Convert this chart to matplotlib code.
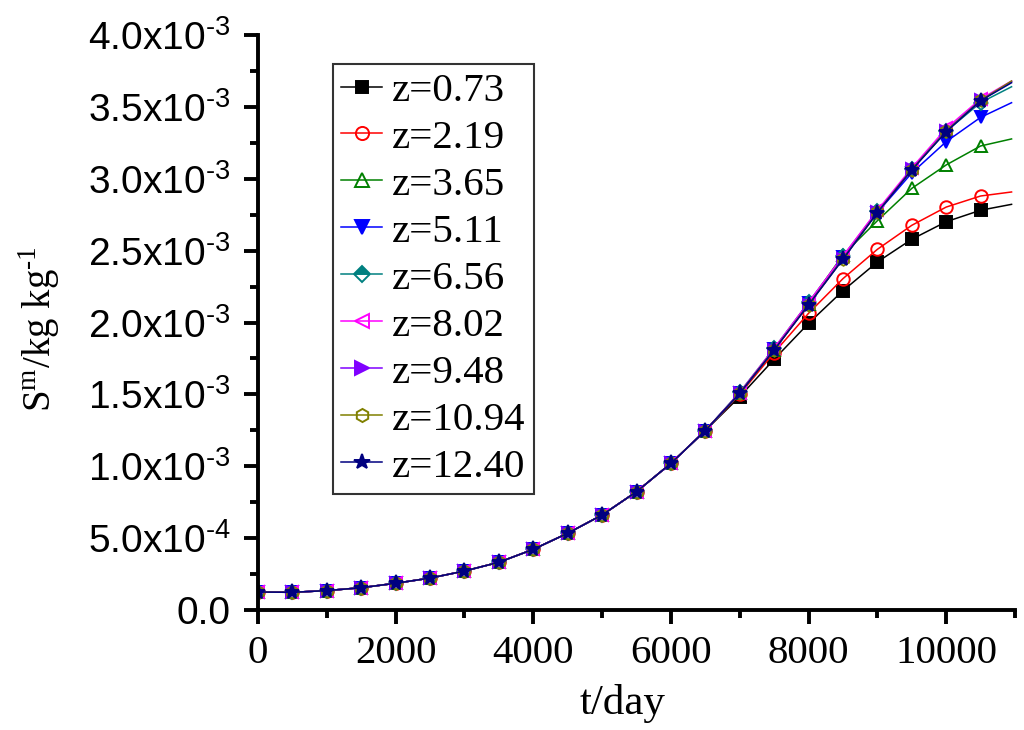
import matplotlib
matplotlib.use("Agg")
import matplotlib.pyplot as plt
from matplotlib.ticker import MultipleLocator, FixedLocator

# ---- data ----
t_days = [0, 500, 1000, 1500, 2000, 2500, 3000, 3500, 4000, 4500, 5000,
          5500, 6000, 6500, 7000, 7500, 8000, 8500, 9000, 9500, 10000,
          10500, 10950]

common_early = [0.125, 0.123, 0.135, 0.155, 0.186, 0.222, 0.271, 0.332,
                0.422, 0.534, 0.661, 0.823, 1.020, 1.248]

tail_073 = [1.484, 1.744, 1.994, 2.221, 2.421, 2.579, 2.701, 2.781, 2.822]
tail_219 = [1.500, 1.790, 2.064, 2.305, 2.509, 2.676, 2.803, 2.880, 2.908]
tail_365 = [1.507, 1.809, 2.130, 2.470, 2.708, 2.933, 3.096, 3.228, 3.277]
tail_511 = [1.510, 1.815, 2.135, 2.455, 2.765, 3.040, 3.258, 3.427, 3.529]
tail_656 = [1.515, 1.820, 2.140, 2.460, 2.775, 3.065, 3.330, 3.530, 3.640]
tail_802 = [1.512, 1.820, 2.140, 2.462, 2.780, 3.075, 3.350, 3.555, 3.680]
tail_948 = [1.508, 1.812, 2.125, 2.445, 2.768, 3.065, 3.335, 3.545, 3.675]
tail_1094 = [1.507, 1.810, 2.124, 2.442, 2.766, 3.063, 3.333, 3.545, 3.680]
tail_1240 = [1.507, 1.809, 2.122, 2.440, 2.764, 3.061, 3.327, 3.543, 3.668]

labels = ["z=0.73", "z=2.19", "z=3.65", "z=5.11", "z=6.56", "z=8.02",
          "z=9.48", "z=10.94", "z=12.40"]
tails = [tail_073, tail_219, tail_365, tail_511, tail_656, tail_802,
         tail_948, tail_1094, tail_1240]

colors = ["#000000", "#ff0000", "#008000", "#0000ff", "#008080", "#ff00ff",
          "#8000ff", "#808000", "#000080"]
markers = ["s", "o", "^", "v", "D", "<", ">", "h", "*"]
fills = ["full", "none", "none", "full", "top", "none", "full", "none", "full"]

HY = "\u2010"
y_ticks = [0.0, 0.5e-3, 1.0e-3, 1.5e-3, 2.0e-3, 2.5e-3, 3.0e-3, 3.5e-3, 4.0e-3]
y_ticklabels = ["0.0", "5.0x10$^\\mathregular{" + HY + "4}$",
                "1.0x10$^\\mathregular{" + HY + "3}$",
                "1.5x10$^\\mathregular{" + HY + "3}$",
                "2.0x10$^\\mathregular{" + HY + "3}$",
                "2.5x10$^\\mathregular{" + HY + "3}$",
                "3.0x10$^\\mathregular{" + HY + "3}$",
                "3.5x10$^\\mathregular{" + HY + "3}$",
                "4.0x10$^\\mathregular{" + HY + "3}$"]
x_ticks = [0, 2000, 4000, 6000, 8000, 10000]

# ---- figure ----
fig = plt.figure(figsize=(10.24, 7.30), dpi=100)
ax = fig.add_axes([258/1024, 1 - 610/730, (1015 - 258)/1024, (610 - 35)/730])

for lab, tail, c, m, fs in zip(labels, tails, colors, markers, fills):
    vals = [v * 1e-3 for v in (common_early + tail)]
    ms = {"*": 11, "h": 9, "D": 7.5, "s": 8.5}.get(m, 9)
    ax.plot(t_days, vals, color=c, lw=1.1, marker=m, ms=ms,
            fillstyle=fs, markerfacecoloralt="white",
            markeredgecolor=c, markeredgewidth=1.4,
            markevery=slice(0, len(t_days) - 1), label=lab)

ax.set_xlim(0, 11000)
ax.set_ylim(0, 4.0e-3)

ax.xaxis.set_major_locator(FixedLocator(x_ticks))
ax.xaxis.set_minor_locator(MultipleLocator(1000))
ax.set_yticks(y_ticks)
ax.set_yticklabels(y_ticklabels, family="Liberation Sans", fontsize=28)
ax.yaxis.set_minor_locator(MultipleLocator(0.25e-3))
ax.set_xticklabels([str(v) for v in x_ticks], family="Liberation Serif",
                   fontsize=29.5)

for s in ("top", "right"):
    ax.spines[s].set_visible(False)
for s in ("left", "bottom"):
    ax.spines[s].set_linewidth(2.8)

ax.tick_params(which="major", direction="out", length=10, width=2.8)
ax.tick_params(which="minor", direction="out", length=6, width=2.8)
ax.tick_params(axis="x", which="major", pad=8)
ax.tick_params(axis="y", which="major", pad=10)

ax.set_xlabel("t/day", family="Liberation Serif", fontsize=31)
ax.xaxis.set_label_coords(0.481, -0.128)
ax.set_ylabel("S$^\\mathregular{m}$/kg kg$^\\mathregular{" + HY + "1}$",
              family="Liberation Serif", fontsize=28)
ax.yaxis.set_label_coords(-0.259, 0.489)

leg = ax.legend(loc="upper left", bbox_to_anchor=(0.099, 0.9496),
                borderaxespad=0, prop={"family": "Liberation Serif", "size": 29.5},
                frameon=True, fancybox=False, edgecolor="black",
                handlelength=1.0, handletextpad=0.24, labelspacing=0.227,
                borderpad=0.2, markerscale=1.05)
leg.get_frame().set_linewidth(1.5)

fig.savefig("out.png", dpi=100)
